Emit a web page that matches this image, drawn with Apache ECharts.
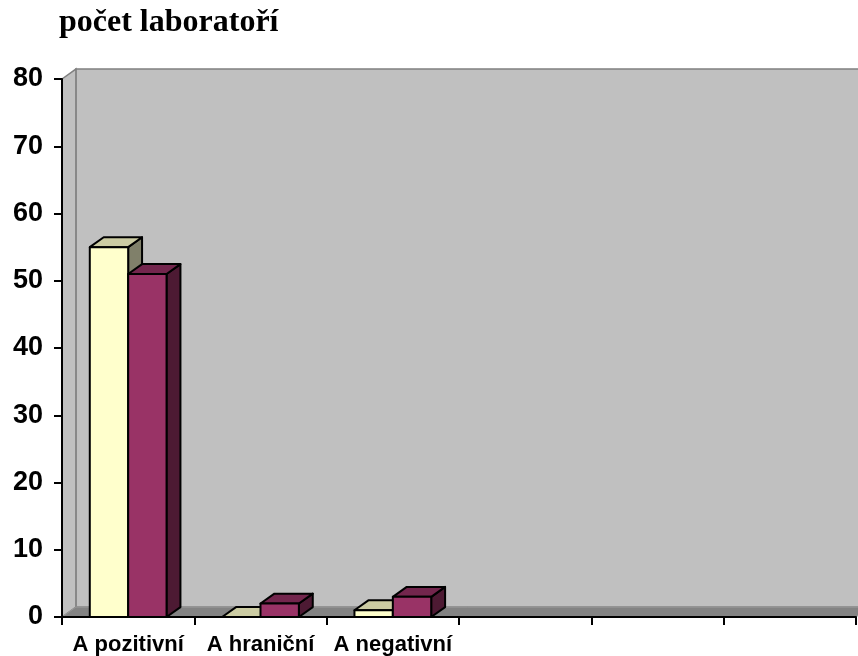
<!DOCTYPE html>
<html>
<head>
<meta charset="utf-8">
<script src="https://cdn.jsdelivr.net/npm/echarts@6/dist/echarts.min.js"></script>
<style>
html, body { margin: 0; padding: 0; background: #fff; }
#container { width: 858px; height: 656px; }
</style>
</head>
<body>
<div id="container"></div>
<script>
/* data */
var categories = ['A pozitivní', 'A hraniční', 'A negativní', '', '', ''];
var seriesA = [55, 0, 1, null, null, null];   // cream bars
var seriesB = [51, 2, 3, null, null, null];   // purple bars
var yTicks = [0, 10, 20, 30, 40, 50, 60, 70, 80];

/* 3D look */
var DEPTH_X = 0.105, DEPTH_Y = -0.075, BAR_W = 0.29;

function toItems(arr) {
    var out = [];
    for (var i = 0; i < arr.length; i++) {
        if (arr[i] !== null) out.push([i, arr[i]]);
    }
    return out;
}

/* back wall, side wall and floor */
function renderWalls(params, api) {
    var band = api.size([1, 0])[0];
    var dx = band * DEPTH_X, dy = band * DEPTH_Y;
    var p0 = api.coord([0, 0]);
    var pTop = api.coord([0, yTicks[yTicks.length - 1]]);
    var pEnd = api.coord([categories.length - 1, 0]);
    var left = p0[0] - band / 2, right = pEnd[0] + band / 2;
    var y0 = p0[1], yT = pTop[1];
    return {
        type: 'group',
        children: [
            { type: 'polygon', shape: { points: [[left + dx, yT + dy], [right + dx, yT + dy], [right + dx, y0 + dy], [left + dx, y0 + dy]] },
              style: { fill: '#c0c0c0', stroke: '#808080', lineWidth: 1.5 } },
            { type: 'polygon', shape: { points: [[left, yT], [left + dx, yT + dy], [left + dx, y0 + dy], [left, y0]] },
              style: { fill: '#c0c0c0', stroke: '#808080', lineWidth: 1.5 } },
            { type: 'polygon', shape: { points: [[left, y0], [right, y0], [right + dx, y0 + dy], [left + dx, y0 + dy]] },
              style: { fill: '#838383', stroke: '#9a9a9a', lineWidth: 1 } }
        ]
    };
}

function makeBarRenderer(shift, front, topC, side) {
    return function (params, api) {
        var ci = api.value(0), v = api.value(1);
        var band = api.size([1, 0])[0];
        var w = band * BAR_W;
        var dx = band * DEPTH_X, dy = band * DEPTH_Y;
        var t = api.coord([ci, v]), b = api.coord([ci, 0]);
        var x0 = t[0] + shift * w;
        var yt = t[1], yb = b[1];
        var st = { stroke: '#000', lineWidth: 2, lineJoin: 'round' };
        return {
            type: 'group',
            children: [
                { type: 'polygon', shape: { points: [[x0 + w, yt], [x0 + w + dx, yt + dy], [x0 + w + dx, yb + dy], [x0 + w, yb]] },
                  style: Object.assign({ fill: side }, st) },
                { type: 'polygon', shape: { points: [[x0, yt], [x0 + w, yt], [x0 + w + dx, yt + dy], [x0 + dx, yt + dy]] },
                  style: Object.assign({ fill: topC }, st) },
                { type: 'rect', shape: { x: x0, y: yt, width: w, height: yb - yt },
                  style: Object.assign({ fill: front }, st) }
            ]
        };
    };
}

var myChart = echarts.init(document.getElementById('container'));

var option = {
    animation: false,
    backgroundColor: '#fff',
    graphic: [{
        type: 'text', left: 59, top: 7,
        style: { text: 'počet laboratoří', font: 'bold 32px "Liberation Serif"', fill: '#000' }
    }],
    grid: { left: 62, right: 2, top: 79, bottom: 39, containLabel: false, outerBoundsMode: 'none' },
    xAxis: {
        type: 'category',
        data: categories,
        z: 5,
        axisLine: { lineStyle: { color: '#000', width: 2 } },
        axisTick: { show: true, length: 8, lineStyle: { color: '#000', width: 2 } },
        axisLabel: { margin: 17, color: '#000', fontSize: 22, fontWeight: 'bold', fontFamily: 'Liberation Sans', interval: 0 },
        splitLine: { show: false }
    },
    yAxis: {
        type: 'value',
        min: 0, max: 80, interval: 10,
        z: 5,
        axisLine: { show: true, lineStyle: { color: '#000', width: 2 } },
        axisTick: { show: true, length: 8, lineStyle: { color: '#000', width: 2 } },
        axisLabel: { margin: 19, color: '#000', fontSize: 27, fontWeight: 'bold', fontFamily: 'Liberation Sans', padding: [6, 0, 0, 0] },
        splitLine: { show: false }
    },
    series: [
        { type: 'custom', name: 'walls', z: 1, silent: true, data: [[0, 0]], renderItem: renderWalls },
        { type: 'custom', name: 'A', z: 2, data: toItems(seriesA),
          renderItem: makeBarRenderer(-1, '#ffffcc', '#cccca3', '#80806a') },
        { type: 'custom', name: 'B', z: 2, data: toItems(seriesB),
          renderItem: makeBarRenderer(0, '#993366', '#73264d', '#4d1a33') }
    ]
};

myChart.setOption(option);
</script>
</body>
</html>
